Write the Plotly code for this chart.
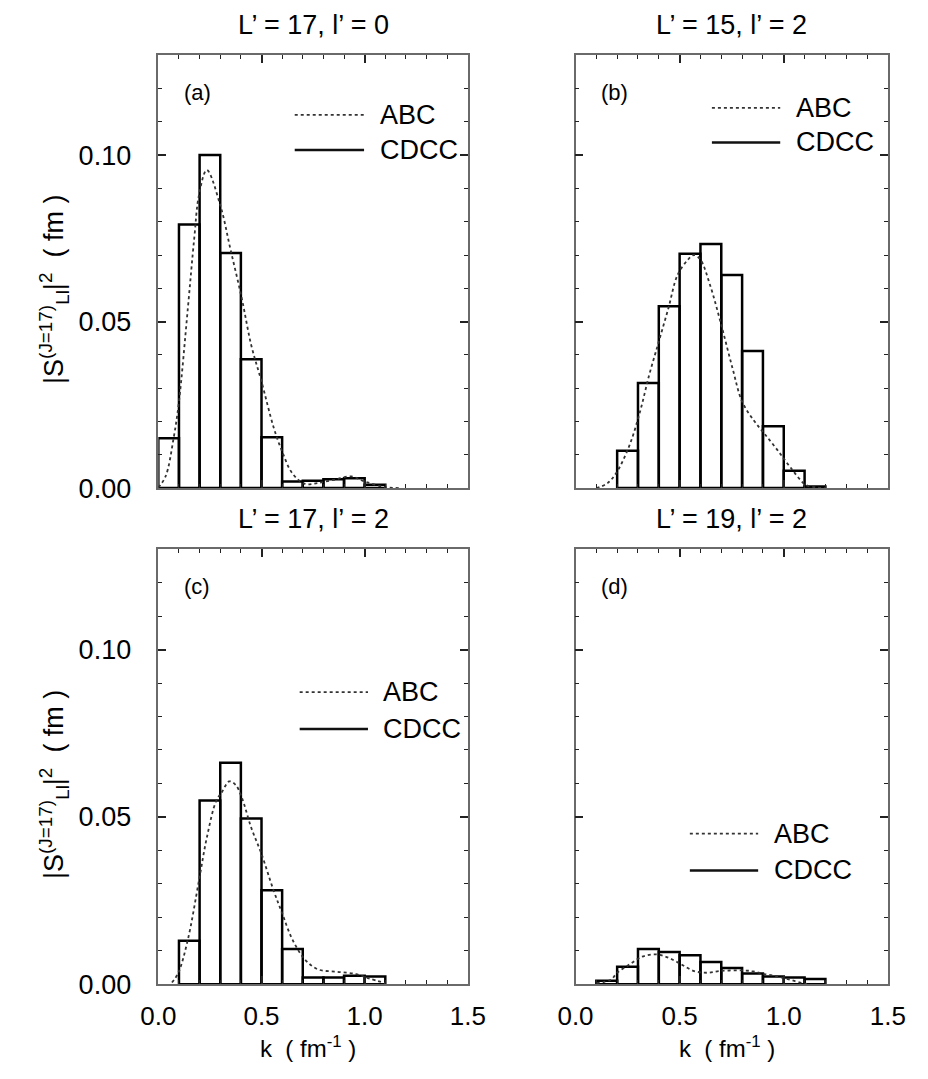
import plotly.graph_objects as go

# ---------------- data ----------------
panel_titles = ["L’ = 17, l’ = 0", "L’ = 15, l’ = 2", "L’ = 17, l’ = 2", "L’ = 19, l’ = 2"]
panel_tags = ["(a)", "(b)", "(c)", "(d)"]

# CDCC histogram (bin centres, width 0.1 fm^-1)
cdcc_k_a = [0.05, 0.15, 0.25, 0.35, 0.45, 0.55, 0.65, 0.75, 0.85, 0.95, 1.05]
cdcc_s_a = [0.0150, 0.0792, 0.1000, 0.0706, 0.0387, 0.0153, 0.0020, 0.0022, 0.0027, 0.0030, 0.0010]

cdcc_k_b = [0.25, 0.35, 0.45, 0.55, 0.65, 0.75, 0.85, 0.95, 1.05, 1.15]
cdcc_s_b = [0.0112, 0.0316, 0.0546, 0.0704, 0.0733, 0.0640, 0.0412, 0.0186, 0.0052, 0.0005]

cdcc_k_c = [0.15, 0.25, 0.35, 0.45, 0.55, 0.65, 0.75, 0.85, 0.95, 1.05]
cdcc_s_c = [0.0130, 0.0549, 0.0662, 0.0495, 0.0281, 0.0105, 0.0020, 0.0020, 0.0025, 0.0023]

cdcc_k_d = [0.15, 0.25, 0.35, 0.45, 0.55, 0.65, 0.75, 0.85, 0.95, 1.05, 1.15]
cdcc_s_d = [0.0010, 0.0052, 0.0105, 0.0096, 0.0086, 0.0066, 0.0048, 0.0032, 0.0023, 0.0020, 0.0015]

# ABC curves
abc_k_a = [0.0, 0.035, 0.074, 0.10, 0.143, 0.174, 0.197, 0.235, 0.30, 0.35, 0.405, 0.45, 0.50,
           0.56, 0.60, 0.65, 0.71, 0.77, 0.85, 0.935, 1.0, 1.1, 1.17]
abc_s_a = [0.0002, 0.0035, 0.015, 0.026, 0.054, 0.075, 0.088, 0.0955, 0.085, 0.0716, 0.0568, 0.043, 0.032,
           0.018, 0.011, 0.0044, 0.0013, 0.0015, 0.0025, 0.0035, 0.002, 0.0003, 0.0]

abc_k_b = [0.10, 0.154, 0.20, 0.26, 0.31, 0.354, 0.40, 0.446, 0.49, 0.54, 0.569, 0.60, 0.646, 0.70,
           0.754, 0.80, 0.86, 0.908, 0.97, 1.03, 1.105, 1.15, 1.20]
abc_s_b = [0.0, 0.0015, 0.005, 0.013, 0.023, 0.034, 0.044, 0.054, 0.064, 0.0686, 0.070, 0.0686, 0.061, 0.049,
           0.036, 0.026, 0.020, 0.0163, 0.0114, 0.0064, 0.001, 0.0003, 0.0]

abc_k_c = [0.066, 0.097, 0.143, 0.197, 0.235, 0.28, 0.31, 0.343, 0.374, 0.405, 0.45, 0.50, 0.558,
           0.60, 0.65, 0.71, 0.774, 0.866, 0.958, 1.02, 1.10]
abc_s_c = [0.0005, 0.0034, 0.0133, 0.031, 0.0438, 0.0547, 0.0576, 0.0606, 0.0596, 0.0557, 0.0468, 0.0389, 0.0281,
           0.0212, 0.0133, 0.0074, 0.0044, 0.0037, 0.0030, 0.0017, 0.0003]

abc_k_d = [0.10, 0.17, 0.20, 0.26, 0.32, 0.385, 0.446, 0.508, 0.57, 0.63, 0.69, 0.77, 0.846,
           0.908, 0.97, 1.03, 1.09, 1.12]
abc_s_d = [0.0003, 0.0013, 0.0034, 0.0059, 0.0082, 0.0089, 0.0079, 0.0059, 0.0039, 0.0034, 0.0039, 0.0041, 0.0039,
           0.0030, 0.0023, 0.0013, 0.0003, 0.0]

x_ticks = [0.0, 0.5, 1.0, 1.5]
x_tick_text = ["0.0", "0.5", "1.0", "1.5"]
y_ticks = [0.00, 0.05, 0.10]
y_tick_text = ["0.00", "0.05", "0.10"]

# legend placement per panel (data coords): line x0, x1, text x, y_abc, y_cdcc
legend_pos = [
    (0.661, 0.997, 1.066, 0.1121, 0.1015),
    (0.655, 0.983, 1.047, 0.1142, 0.1038),
    (0.685, 1.016, 1.080, 0.0873, 0.0763),
    (0.549, 0.877, 0.945, 0.0450, 0.0340),
]

# ---------------- figure ----------------
W, H = 928, 1079
FONT = "Liberation Sans, Arial, sans-serif"

cols = [(146 / W, 468 / W), (580 / W, 905 / W)]
rows = [(1 - 495 / H, 1 - 56 / H), (1 - 998 / H, 1 - 557 / H)]

hist = [(cdcc_k_a, cdcc_s_a), (cdcc_k_b, cdcc_s_b), (cdcc_k_c, cdcc_s_c), (cdcc_k_d, cdcc_s_d)]
curves = [(abc_k_a, abc_s_a), (abc_k_b, abc_s_b), (abc_k_c, abc_s_c), (abc_k_d, abc_s_d)]

fig = go.Figure()
layout = dict(
    width=W, height=H, margin=dict(l=0, r=0, t=0, b=0),
    paper_bgcolor="white", plot_bgcolor="white", showlegend=False,
    font=dict(family=FONT, size=27, color="black"),
)

annotations = []
shapes = []

for i in range(4):
    r, c = divmod(i, 2)
    ax = "" if i == 0 else str(i + 1)
    xa, ya = "x" + ax, "y" + ax
    hk, hs = hist[i]
    ck, cs = curves[i]
    fig.add_trace(go.Bar(x=hk, y=hs, width=0.1, xaxis=xa, yaxis=ya,
                         marker=dict(color="rgba(255,255,255,0)", line=dict(color="black", width=2.5))))
    fig.add_trace(go.Scatter(x=ck, y=cs, mode="lines", xaxis=xa, yaxis=ya, line_shape="spline",
                             line=dict(color="#333333", width=1.8, dash="dot")))

    common = dict(showline=True, linecolor="#6a6a6a", linewidth=1.5, mirror="allticks",
                  ticks="inside", tickcolor="#222222", tickwidth=1.5, showgrid=False, zeroline=False)
    layout["xaxis" + ax] = dict(
        domain=list(cols[c]), range=[0, 1.5], anchor=ya,
        tickvals=x_ticks, ticktext=x_tick_text, ticklen=8,
        showticklabels=(r == 1), tickfont=dict(size=26), ticklabelstandoff=8,
        minor=dict(dtick=0.1, tick0=0, ticks="inside", ticklen=4, tickcolor="#222222", tickwidth=1.2),
        **common)
    layout["yaxis" + ax] = dict(
        domain=list(rows[r]), range=[0, 0.13], anchor=xa,
        tickvals=y_ticks, ticktext=y_tick_text, ticklen=8,
        showticklabels=(c == 0), tickfont=dict(size=27), ticklabelstandoff=20,
        minor=dict(dtick=0.01, tick0=0, ticks="inside", ticklen=4, tickcolor="#222222", tickwidth=1.2),
        **common)

    # panel title
    annotations.append(dict(text=panel_titles[i], xref="paper", yref="paper",
                            x=sum(cols[c]) / 2, y=rows[r][1] + 31 / H, showarrow=False,
                            xanchor="center", yanchor="middle", font=dict(size=27)))
    # panel tag
    annotations.append(dict(text=panel_tags[i], xref=xa + " domain", yref=ya + " domain",
                            x=0.075, y=0.915, showarrow=False, xanchor="left", yanchor="middle",
                            font=dict(size=22)))
    # legend
    lx0, lx1, tx, y1, y2 = legend_pos[i]
    shapes.append(dict(type="line", xref=xa, yref=ya, x0=lx0, x1=lx1, y0=y1, y1=y1,
                       line=dict(color="#333333", width=1.8, dash="dot")))
    shapes.append(dict(type="line", xref=xa, yref=ya, x0=lx0, x1=lx1, y0=y2, y1=y2,
                       line=dict(color="#111111", width=2.5)))
    annotations.append(dict(text="ABC", xref=xa, yref=ya, x=tx, y=y1, showarrow=False,
                            xanchor="left", yanchor="middle", font=dict(size=27)))
    annotations.append(dict(text="CDCC", xref=xa, yref=ya, x=tx, y=y2, showarrow=False,
                            xanchor="left", yanchor="middle", font=dict(size=27)))

# axis titles
ytitle = "|S<sup>(J=17)</sup><sub>Ll</sub>|<sup>2</sup>  ( fm )"
for r in range(2):
    annotations.append(dict(text=ytitle, xref="paper", yref="paper", x=38 / W,
                            y=sum(rows[r]) / 2 - 18 / H, textangle=-90, showarrow=False,
                            xanchor="center", yanchor="middle", font=dict(size=27)))
for c in range(2):
    annotations.append(dict(text="k  ( fm<sup>-1</sup> )", xref="paper", yref="paper",
                            x=sum(cols[c]) / 2 - 5 / W, y=0, showarrow=False,
                            xanchor="center", yanchor="bottom", yshift=0, font=dict(size=24)))

layout["annotations"] = annotations
layout["shapes"] = shapes
fig.update_layout(**layout)
fig.write_html("out.html")
